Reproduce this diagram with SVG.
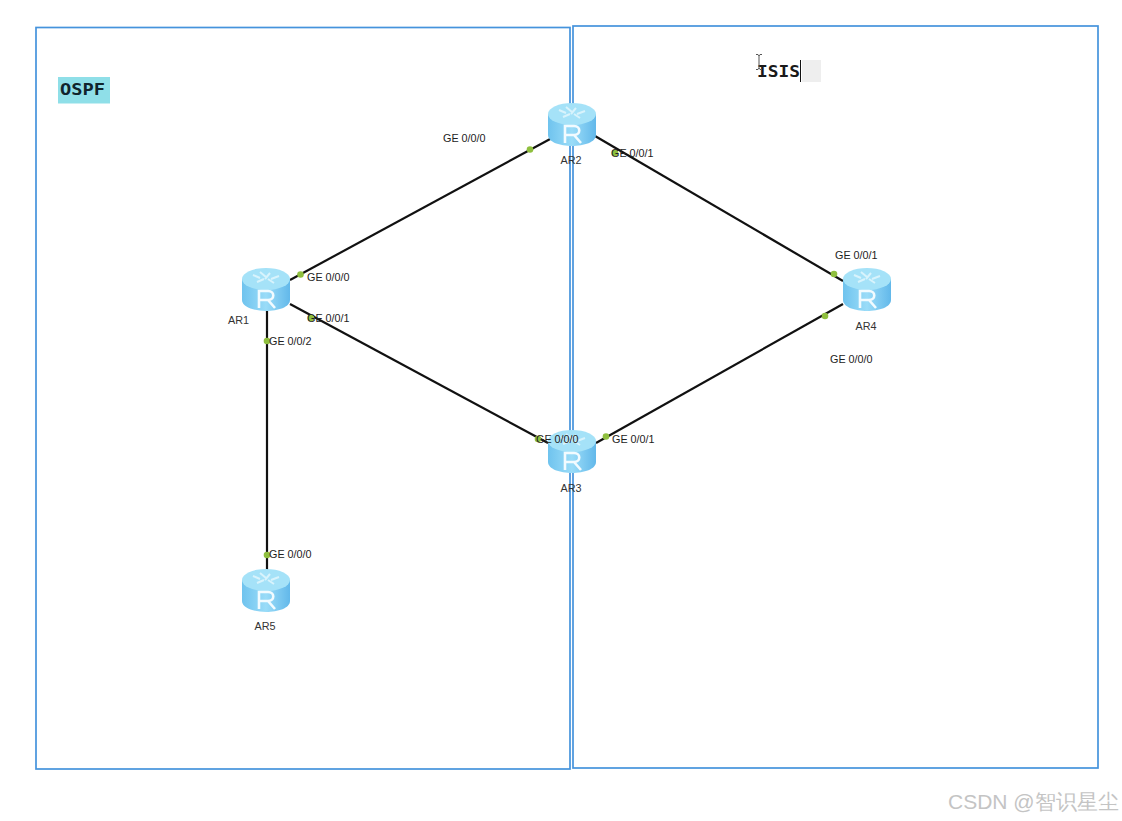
<svg xmlns="http://www.w3.org/2000/svg" width="1122" height="821" viewBox="0 0 1122 821">
<style>
.box{fill:none;stroke:#4593dc;stroke-width:1.7}
.link{stroke:#111;stroke-width:2.200;fill:none}
.dot{fill:#8fbf3e}
text{font-family:"Liberation Sans",Arial,sans-serif}
.lb{font-size:10.800px;fill:#222}
.nm{font-size:10.800px;fill:#333;text-anchor:middle}
.mono{font-family:"DejaVu Sans Mono","Liberation Mono",monospace}
</style>
<defs>
<linearGradient id="side" x1="0" x2="1" y1="0" y2="0">
<stop offset="0" stop-color="#6fc3ee"/><stop offset="0.5" stop-color="#9adcf8"/><stop offset="1" stop-color="#62b8ea"/>
</linearGradient>
<g id="router">
<path d="M-24,-11V10C-24,17 -12,21 0,21C12,21 24,17 24,10V-11Z" fill="url(#side)"/>
<ellipse cx="0" cy="-11" rx="24" ry="11" fill="#a5e2f8"/>
<path d="M-13,-15l7,3M-6,-18l6,5M4,-17l-5,6M13,-14l-8,3M-9,-8l7,-3M8,-7l-6,-4" stroke="#d8f3fc" stroke-width="2" fill="none"/>
<path d="M-7,18V1H2C9,1 9,10 2,10H-7M2,10L9,18" stroke="#f2fbff" stroke-width="2.600" fill="none"/>
</g>
</defs>
<rect width="1122" height="821" fill="#fff"/>
<g id="regions">
<rect class="box" x="36" y="27.500" width="534" height="741.500"/>
<rect class="box" x="573" y="26" width="525" height="742"/>
</g>
<g id="connectors">
<line class="link" x1="290" y1="280" x2="552" y2="138"/>
<line class="link" x1="290" y1="304" x2="548" y2="443"/>
<line class="link" x1="267" y1="311" x2="267" y2="570"/>
<line class="link" x1="595" y1="136" x2="843" y2="281"/>
<line class="link" x1="596" y1="443" x2="843" y2="304"/>
<circle class="dot" cx="530" cy="149.500" r="3.300"/>
<circle class="dot" cx="300.500" cy="274.500" r="3.300"/>
<circle class="dot" cx="311" cy="318" r="3.300"/>
<circle class="dot" cx="267" cy="341" r="3.300"/>
<circle class="dot" cx="267" cy="555" r="3.300"/>
<circle class="dot" cx="615" cy="153" r="3.300"/>
<circle class="dot" cx="834" cy="274" r="3.300"/>
<circle class="dot" cx="825" cy="316" r="3.300"/>
<circle class="dot" cx="606" cy="436.500" r="3.300"/>
<circle class="dot" cx="538" cy="439" r="3.300"/>
</g>
<g id="AR1"><use href="#router" x="266" y="290"/><text class="nm" x="238.500" y="324">AR1</text></g>
<g id="AR2"><use href="#router" x="572" y="125"/><text class="nm" x="571" y="164">AR2</text></g>
<g id="AR3"><use href="#router" x="572" y="452"/><text class="nm" x="571" y="492">AR3</text></g>
<g id="AR4"><use href="#router" x="867" y="290"/><text class="nm" x="866" y="330">AR4</text></g>
<g id="AR5"><use href="#router" x="266" y="591"/><text class="nm" x="265" y="630">AR5</text></g>
<g id="port-labels">
<text class="lb" x="443" y="142">GE 0/0/0</text>
<text class="lb" x="307" y="281">GE 0/0/0</text>
<text class="lb" x="307" y="322">GE 0/0/1</text>
<text class="lb" x="269" y="345">GE 0/0/2</text>
<text class="lb" x="269" y="558">GE 0/0/0</text>
<text class="lb" x="611" y="157">GE 0/0/1</text>
<text class="lb" x="835" y="259">GE 0/0/1</text>
<text class="lb" x="830" y="363">GE 0/0/0</text>
<text class="lb" x="536" y="443">GE 0/0/0</text>
<text class="lb" x="612" y="443">GE 0/0/1</text>
</g>
<g id="OSPF">
<rect x="58" y="77" width="52" height="26.500" fill="#8fdfe8"/>
<text x="60" y="95" font-size="16" font-weight="bold" fill="#10242c" class="mono" textLength="45" lengthAdjust="spacingAndGlyphs">OSPF</text>
</g>
<g id="ISIS">
<rect x="802" y="60" width="19" height="22" fill="#eeeeee"/>
<text x="757" y="77" font-size="16" font-weight="bold" fill="#1a1a1a" class="mono" textLength="43" lengthAdjust="spacingAndGlyphs">ISIS</text>
<line x1="800.500" y1="60" x2="800.500" y2="82" stroke="#111" stroke-width="1"/>
<path d="M756,54.500h2l1,1.500l1,-1.500h2M759,56V68M756,69.500h2l1,-1.500l1,1.500h2" stroke="#555" stroke-width="1" fill="none"/>
</g>
<text id="watermark" x="948" y="809" font-size="21" fill="#c4c4c4" font-family="'Liberation Sans','Noto Sans CJK SC',sans-serif">CSDN @智识星尘</text>
</svg>
